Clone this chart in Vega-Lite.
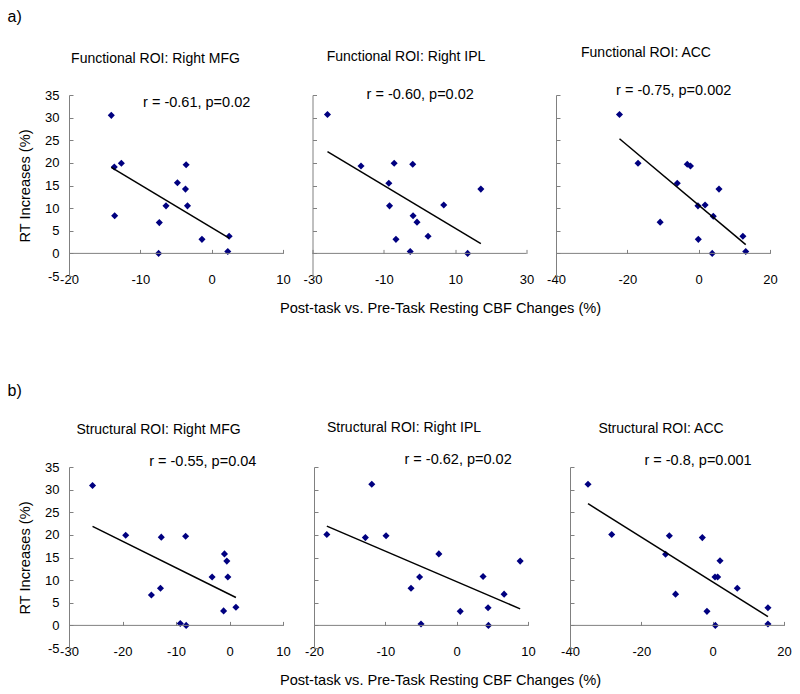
{
  "$schema": "https://vega.github.io/schema/vega-lite/v6.json",
  "padding": {"left": 7, "top": 8, "right": 5, "bottom": 5},
  "config": {
    "font": "Liberation Sans",
    "view": {"stroke": null},
    "axis": {"grid": false, "domainColor": "#808080", "tickColor": "#808080", "labelColor": "#000", "labelFontSize": 13, "titleFontSize": 14.6, "titleFontWeight": "normal", "titleColor": "#000", "tickSize": -4, "labelFlush": false, "labelOverlap": false, "labelExpr": "replace(datum.label, '\u2212', '-')"},
    "title": {"fontSize": 14, "fontWeight": "normal", "color": "#000", "offset": 23}
  },
  "datasets": {
    "fmfg": [
      {"cbf": -14.07, "rt": 30.5}, {"cbf": -13.65, "rt": 19.1}, {"cbf": -12.66, "rt": 19.9}, {"cbf": -13.6, "rt": 8.3},
      {"cbf": -7.34, "rt": 6.8}, {"cbf": -7.44, "rt": 0.0}, {"cbf": -6.4, "rt": 10.5}, {"cbf": -4.8, "rt": 15.6},
      {"cbf": -3.58, "rt": 19.6}, {"cbf": -3.67, "rt": 14.2}, {"cbf": -3.39, "rt": 10.5}, {"cbf": -1.36, "rt": 3.1},
      {"cbf": 2.45, "rt": 3.8}, {"cbf": 2.26, "rt": 0.4}
    ],
    "fipl": [
      {"cbf": -25.8, "rt": 30.7}, {"cbf": -16.4, "rt": 19.3}, {"cbf": -7.1, "rt": 19.9}, {"cbf": -1.9, "rt": 19.7},
      {"cbf": -8.6, "rt": 15.5}, {"cbf": -8.4, "rt": 10.5}, {"cbf": -1.8, "rt": 8.3}, {"cbf": -0.7, "rt": 6.9},
      {"cbf": -6.6, "rt": 3.1}, {"cbf": 2.4, "rt": 3.8}, {"cbf": -2.6, "rt": 0.4}, {"cbf": 6.8, "rt": 10.7},
      {"cbf": 17.2, "rt": 14.2}, {"cbf": 13.5, "rt": 0.0}
    ],
    "facc": [
      {"cbf": -22.2, "rt": 30.7}, {"cbf": -17.0, "rt": 19.9}, {"cbf": -3.2, "rt": 19.7}, {"cbf": -2.3, "rt": 19.3},
      {"cbf": -6.0, "rt": 15.5}, {"cbf": 5.7, "rt": 14.2}, {"cbf": -0.2, "rt": 10.5}, {"cbf": 1.8, "rt": 10.7},
      {"cbf": 4.1, "rt": 8.2}, {"cbf": -10.8, "rt": 6.9}, {"cbf": -0.1, "rt": 3.1}, {"cbf": 12.4, "rt": 3.8},
      {"cbf": 3.8, "rt": 0.0}, {"cbf": 13.2, "rt": 0.4}
    ],
    "smfg": [
      {"cbf": -25.6, "rt": 30.9}, {"cbf": -19.4, "rt": 19.9}, {"cbf": -12.75, "rt": 19.5}, {"cbf": -8.2, "rt": 19.7},
      {"cbf": -0.94, "rt": 15.8}, {"cbf": -0.5, "rt": 14.2}, {"cbf": -3.25, "rt": 10.7}, {"cbf": -0.31, "rt": 10.7},
      {"cbf": -12.9, "rt": 8.2}, {"cbf": -14.6, "rt": 6.7}, {"cbf": -1.1, "rt": 3.2}, {"cbf": 1.2, "rt": 4.0},
      {"cbf": -9.2, "rt": 0.4}, {"cbf": -8.1, "rt": 0.0}
    ],
    "sipl": [
      {"cbf": -18.2, "rt": 20.1}, {"cbf": -12.8, "rt": 19.4}, {"cbf": -11.9, "rt": 31.2}, {"cbf": -9.9, "rt": 19.8},
      {"cbf": -2.5, "rt": 15.8}, {"cbf": -5.2, "rt": 10.7}, {"cbf": -6.4, "rt": 8.2}, {"cbf": -5.0, "rt": 0.3},
      {"cbf": 0.5, "rt": 3.1}, {"cbf": 3.7, "rt": 10.8}, {"cbf": 4.4, "rt": 3.9}, {"cbf": 4.45, "rt": 0.0},
      {"cbf": 6.65, "rt": 6.9}, {"cbf": 8.9, "rt": 14.2}
    ],
    "sacc": [
      {"cbf": -34.95, "rt": 31.2}, {"cbf": -28.3, "rt": 20.1}, {"cbf": -12.15, "rt": 19.8}, {"cbf": -2.9, "rt": 19.4},
      {"cbf": -13.2, "rt": 15.7}, {"cbf": 2.06, "rt": 14.3}, {"cbf": 0.65, "rt": 10.7}, {"cbf": 1.4, "rt": 10.7},
      {"cbf": 6.9, "rt": 8.2}, {"cbf": -10.4, "rt": 6.9}, {"cbf": -1.6, "rt": 3.1}, {"cbf": 15.5, "rt": 3.9},
      {"cbf": 0.75, "rt": 0.0}, {"cbf": 15.5, "rt": 0.3}
    ],
    "one": [{}]
  },
  "vconcat": [
    {
      "title": {"text": "a)", "anchor": "start", "fontSize": 16, "dx": -10, "offset": 21},
      "spacing": 29.5,
      "bounds": "flush",
      "hconcat": [
        {
          "width": 214, "height": 181,
          "title": {"text": "Functional ROI: Right MFG", "dx": -20.5},
          "layer": [
            {"data": {"name": "fmfg"}, "mark": {"type": "point", "shape": "diamond", "filled": true, "color": "#000080", "size": 50, "opacity": 1},
             "encoding": {
               "x": {"field": "cbf", "type": "quantitative", "scale": {"domain": [-20, 10], "nice": false, "zero": false},
                     "axis": {"values": [-20, -10, 0, 10], "tickCount": 20, "domain": false, "offset": -22.6, "labelPadding": 24, "title": null, "labelOverlap": false}},
               "y": {"field": "rt", "type": "quantitative", "scale": {"domain": [-5, 35], "nice": false, "zero": false},
                     "axis": {"values": [-5, 0, 5, 10, 15, 20, 25, 30, 35], "tickCount": 20, "title": "RT Increases (%)", "labelPadding": 14, "titlePadding": 12, "labelOverlap": false}}}},
            {"data": {"name": "one"}, "mark": {"type": "rule", "color": "#808080", "strokeWidth": 1},
             "encoding": {"x": {"datum": -20, "type": "quantitative"}, "x2": {"datum": 10}, "y": {"datum": 0, "type": "quantitative"}}},
            {"data": {"name": "fmfg"}, "transform": [{"regression": "rt", "on": "cbf"}], "mark": {"type": "line", "color": "#000", "strokeWidth": 1.5},
             "encoding": {"x": {"field": "cbf", "type": "quantitative"}, "y": {"field": "rt", "type": "quantitative"}}},
            {"data": {"name": "one"}, "mark": {"type": "text", "fontSize": 14.5, "color": "#000"},
             "encoding": {"x": {"datum": -2.1, "type": "quantitative"}, "y": {"datum": 33.2, "type": "quantitative"}, "text": {"value": "r = -0.61, p=0.02"}}}
          ]
        },
        {
          "width": 214, "height": 181,
          "title": {"text": "Functional ROI: Right IPL", "dx": -13.5},
          "layer": [
            {"data": {"name": "fipl"}, "mark": {"type": "point", "shape": "diamond", "filled": true, "color": "#000080", "size": 50, "opacity": 1},
             "encoding": {
               "x": {"field": "cbf", "type": "quantitative", "scale": {"domain": [-30, 30], "nice": false, "zero": false},
                     "axis": {"values": [-30, -10, 10, 30], "tickCount": 20, "domain": false, "offset": -22.6, "labelPadding": 24, "labelOverlap": false, "title": "Post-task vs. Pre-Task Resting CBF Changes (%)", "titleX": 127.5, "titlePadding": 14}},
               "y": {"field": "rt", "type": "quantitative", "scale": {"domain": [-5, 35], "nice": false, "zero": false},
                     "axis": {"values": [-5, 0, 5, 10, 15, 20, 25, 30, 35], "tickCount": 20, "labels": false, "title": null}}}},
            {"data": {"name": "one"}, "mark": {"type": "rule", "color": "#808080", "strokeWidth": 1},
             "encoding": {"x": {"datum": -30, "type": "quantitative"}, "x2": {"datum": 30}, "y": {"datum": 0, "type": "quantitative"}}},
            {"data": {"name": "fipl"}, "transform": [{"regression": "rt", "on": "cbf"}], "mark": {"type": "line", "color": "#000", "strokeWidth": 1.5},
             "encoding": {"x": {"field": "cbf", "type": "quantitative"}, "y": {"field": "rt", "type": "quantitative"}}},
            {"data": {"name": "one"}, "mark": {"type": "text", "fontSize": 14.5, "color": "#000"},
             "encoding": {"x": {"datum": 0.2, "type": "quantitative"}, "y": {"datum": 35.0, "type": "quantitative"}, "text": {"value": "r = -0.60, p=0.02"}}}
          ]
        },
        {
          "width": 214, "height": 181,
          "title": {"text": "Functional ROI: ACC", "dx": -17},
          "layer": [
            {"data": {"name": "facc"}, "mark": {"type": "point", "shape": "diamond", "filled": true, "color": "#000080", "size": 50, "opacity": 1},
             "encoding": {
               "x": {"field": "cbf", "type": "quantitative", "scale": {"domain": [-40, 20], "nice": false, "zero": false},
                     "axis": {"values": [-40, -20, 0, 20], "tickCount": 20, "domain": false, "offset": -22.6, "labelPadding": 24, "labelOverlap": false, "title": null}},
               "y": {"field": "rt", "type": "quantitative", "scale": {"domain": [-5, 35], "nice": false, "zero": false},
                     "axis": {"values": [-5, 0, 5, 10, 15, 20, 25, 30, 35], "tickCount": 20, "labels": false, "title": null}}}},
            {"data": {"name": "one"}, "mark": {"type": "rule", "color": "#808080", "strokeWidth": 1},
             "encoding": {"x": {"datum": -40, "type": "quantitative"}, "x2": {"datum": 20}, "y": {"datum": 0, "type": "quantitative"}}},
            {"data": {"name": "facc"}, "transform": [{"regression": "rt", "on": "cbf"}], "mark": {"type": "line", "color": "#000", "strokeWidth": 1.5},
             "encoding": {"x": {"field": "cbf", "type": "quantitative"}, "y": {"field": "rt", "type": "quantitative"}}},
            {"data": {"name": "one"}, "mark": {"type": "text", "fontSize": 14.5, "color": "#000"},
             "encoding": {"x": {"datum": -7.0, "type": "quantitative"}, "y": {"datum": 35.9, "type": "quantitative"}, "text": {"value": "r = -0.75, p=0.002"}}}
          ]
        }
      ]
    },
    {
      "title": {"text": "b)", "anchor": "start", "fontSize": 16, "dx": -10, "offset": 22},
      "spacing": 31,
      "bounds": "flush",
      "hconcat": [
        {
          "width": 214, "height": 181,
          "title": {"text": "Structural ROI: Right MFG", "offset": 17, "dx": -17.5},
          "layer": [
            {"data": {"name": "smfg"}, "mark": {"type": "point", "shape": "diamond", "filled": true, "color": "#000080", "size": 50, "opacity": 1},
             "encoding": {
               "x": {"field": "cbf", "type": "quantitative", "scale": {"domain": [-30, 10], "nice": false, "zero": false},
                     "axis": {"values": [-30, -20, -10, 0, 10], "tickCount": 20, "domain": false, "offset": -22.6, "labelPadding": 24, "labelOverlap": false, "title": null}},
               "y": {"field": "rt", "type": "quantitative", "scale": {"domain": [-5, 35], "nice": false, "zero": false},
                     "axis": {"values": [-5, 0, 5, 10, 15, 20, 25, 30, 35], "tickCount": 20, "title": "RT Increases (%)", "labelPadding": 14, "titlePadding": 12, "labelOverlap": false}}}},
            {"data": {"name": "one"}, "mark": {"type": "rule", "color": "#808080", "strokeWidth": 1},
             "encoding": {"x": {"datum": -30, "type": "quantitative"}, "x2": {"datum": 10}, "y": {"datum": 0, "type": "quantitative"}}},
            {"data": {"name": "smfg"}, "transform": [{"regression": "rt", "on": "cbf"}], "mark": {"type": "line", "color": "#000", "strokeWidth": 1.5},
             "encoding": {"x": {"field": "cbf", "type": "quantitative"}, "y": {"field": "rt", "type": "quantitative"}}},
            {"data": {"name": "one"}, "mark": {"type": "text", "fontSize": 14.5, "color": "#000"},
             "encoding": {"x": {"datum": -5.0, "type": "quantitative"}, "y": {"datum": 36.0, "type": "quantitative"}, "text": {"value": "r = -0.55, p=0.04"}}}
          ]
        },
        {
          "width": 225, "height": 181,
          "title": {"text": "Structural ROI: Right IPL", "offset": 17, "dx": -22.5},
          "layer": [
            {"data": {"name": "sipl"}, "mark": {"type": "point", "shape": "diamond", "filled": true, "color": "#000080", "size": 50, "opacity": 1},
             "encoding": {
               "x": {"field": "cbf", "type": "quantitative", "scale": {"domain": [-20, 11.54], "nice": false, "zero": false},
                     "axis": {"values": [-20, -10, 0, 10], "tickCount": 20, "domain": false, "offset": -22.6, "labelPadding": 24, "labelOverlap": false, "title": "Post-task vs. Pre-Task Resting CBF Changes (%)", "titleX": 126, "titlePadding": 14}},
               "y": {"field": "rt", "type": "quantitative", "scale": {"domain": [-5, 35], "nice": false, "zero": false},
                     "axis": {"values": [-5, 0, 5, 10, 15, 20, 25, 30, 35], "tickCount": 20, "labels": false, "title": null}}}},
            {"data": {"name": "one"}, "mark": {"type": "rule", "color": "#808080", "strokeWidth": 1},
             "encoding": {"x": {"datum": -20, "type": "quantitative"}, "x2": {"datum": 10}, "y": {"datum": 0, "type": "quantitative"}}},
            {"data": {"name": "sipl"}, "transform": [{"regression": "rt", "on": "cbf"}], "mark": {"type": "line", "color": "#000", "strokeWidth": 1.5},
             "encoding": {"x": {"field": "cbf", "type": "quantitative"}, "y": {"field": "rt", "type": "quantitative"}}},
            {"data": {"name": "one"}, "mark": {"type": "text", "fontSize": 14.5, "color": "#000"},
             "encoding": {"x": {"datum": 0.2, "type": "quantitative"}, "y": {"datum": 36.6, "type": "quantitative"}, "text": {"value": "r = -0.62, p=0.02"}}}
          ]
        },
        {
          "width": 214, "height": 181,
          "title": {"text": "Structural ROI: ACC", "offset": 17, "dx": -16},
          "layer": [
            {"data": {"name": "sacc"}, "mark": {"type": "point", "shape": "diamond", "filled": true, "color": "#000080", "size": 50, "opacity": 1},
             "encoding": {
               "x": {"field": "cbf", "type": "quantitative", "scale": {"domain": [-40, 20], "nice": false, "zero": false},
                     "axis": {"values": [-40, -20, 0, 20], "tickCount": 20, "domain": false, "offset": -22.6, "labelPadding": 24, "labelOverlap": false, "title": null}},
               "y": {"field": "rt", "type": "quantitative", "scale": {"domain": [-5, 35], "nice": false, "zero": false},
                     "axis": {"values": [-5, 0, 5, 10, 15, 20, 25, 30, 35], "tickCount": 20, "labels": false, "title": null}}}},
            {"data": {"name": "one"}, "mark": {"type": "rule", "color": "#808080", "strokeWidth": 1},
             "encoding": {"x": {"datum": -40, "type": "quantitative"}, "x2": {"datum": 20}, "y": {"datum": 0, "type": "quantitative"}}},
            {"data": {"name": "sacc"}, "transform": [{"regression": "rt", "on": "cbf"}], "mark": {"type": "line", "color": "#000", "strokeWidth": 1.5},
             "encoding": {"x": {"field": "cbf", "type": "quantitative"}, "y": {"field": "rt", "type": "quantitative"}}},
            {"data": {"name": "one"}, "mark": {"type": "text", "fontSize": 14.5, "color": "#000"},
             "encoding": {"x": {"datum": -4.1, "type": "quantitative"}, "y": {"datum": 36.3, "type": "quantitative"}, "text": {"value": "r = -0.8, p=0.001"}}}
          ]
        }
      ]
    }
  ],
  "spacing": 67
}
